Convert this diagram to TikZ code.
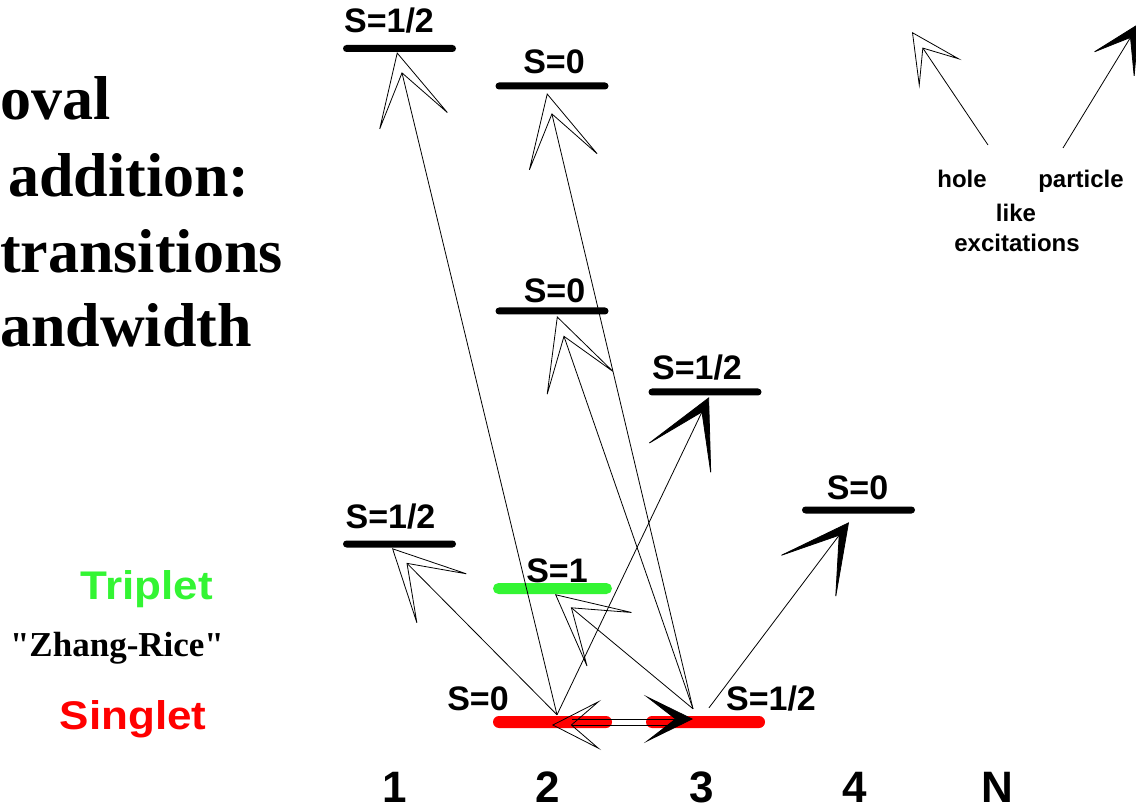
\documentclass[tikz,border=0pt]{standalone}
\usepackage{fontspec}
\usetikzlibrary{arrows.meta}
\newfontfamily\labfont{Liberation Sans}
\newfontfamily\serifb{Liberation Serif}
\definecolor{levred}{RGB}{255,0,0}
\definecolor{levgreen}{RGB}{51,245,51}
\newcommand{\px}[1]{\fontsize{#1}{#1}\selectfont}
\newcommand{\wider}[1]{\scalebox{1.1}[1]{#1}}

\begin{document}
\begin{tikzpicture}[x=1pt,y=-1pt,
  lev/.style={rectangle, rounded corners=3.5pt, fill=black, minimum width=113pt,
              minimum height=7pt, inner sep=0pt},
  redlev/.style={lev, fill=levred, minimum width=119pt, minimum height=12pt, rounded corners=6pt},
  greenlev/.style={redlev, fill=levgreen, minimum height=11pt, rounded corners=5.5pt},
  spin/.style={font=\labfont\bfseries\px{34}, anchor=base, inner sep=0pt},
  colnum/.style={font=\labfont\bfseries\px{44}, anchor=base, inner sep=0pt},
  title/.style={font=\serifb\bfseries\px{62}, anchor=base west, inner sep=0pt},
  side/.style={font=\labfont\bfseries\px{40}, anchor=base, inner sep=0pt},
  legend/.style={font=\labfont\bfseries\px{24}, anchor=base, inner sep=0pt},
  hole/.style={line width=0.8pt, -{Stealth[open, length=75pt, width=75pt, inset=53pt]}},
  particle/.style={line width=0.8pt, -{Stealth[length=73pt, width=75pt, inset=56pt]}},
  holemid/.style={line width=0.8pt, -{Stealth[open, length=49pt, width=50pt, inset=29pt]}},
  particlemid/.style={line width=0.8pt, -{Stealth[length=49pt, width=48pt, inset=31pt]}},
  holesmall/.style={line width=0.8pt, -{Stealth[open, length=51pt, width=51pt, inset=31pt]}},
  particlesmall/.style={line width=0.8pt, -{Stealth[length=51pt, width=51pt, inset=34pt]}}
]
\useasboundingbox (0,0) rectangle (1136,810);

% title lines
\node[title] (tt1) at (0,120) {oval};
\node[title] (tt2) at (8,197) {addition:};
\node[title] (tt3) at (0,273) {transitions};
\node[title] (tt4) at (0,347) {andwidth};

% two-hole states on the left
\node[side, text=levgreen] (trip) at (147,599) {\wider{Triplet}};
\node[font=\serifb\bfseries\px{35}, anchor=base, inner sep=0pt] (zr) at (117,656) {"Zhang-Rice"};
\node[side, text=levred] (sing) at (133,729) {\wider{Singlet}};

% energy levels
\node[lev] (a1) at (399.5,48.5) {};
\node[lev] (a2) at (552,86) {};
\node[lev] (b2) at (552,311) {};
\node[lev] (b3) at (705,392) {};
\node[lev] (c4) at (858.5,510) {};
\node[lev] (c1) at (399.5,544) {};
\node[greenlev] (t2) at (552.5,588.5) {};
\node[redlev] (g2) at (552.5,722) {};
\node[redlev] (g3) at (705.5,722) {};

% spin labels
\node[spin] (la1) at (389,33) {S=1/2};
\node[spin] (la2) at (554,74) {S=0};
\node[spin] (lb2) at (554.5,303) {S=0};
\node[spin] (lb3) at (697,380) {S=1/2};
\node[spin] (lc4) at (857.5,499) {S=0};
\node[spin] (lc1) at (390.5,528) {S=1/2};
\node[spin] (lt2) at (557,582) {S=1};
\node[spin] (lg2) at (478,710) {S=0};
\node[spin] (lg3) at (771,710) {S=1/2};

% particle numbers
\node[colnum] (n1) at (395,802) {1};
\node[colnum] (n2) at (548,802) {2};
\node[colnum] (n3) at (702,802) {3};
\node[colnum] (n4) at (855,802) {4};
\node[colnum] (nN) at (997,802) {N};

% start points on the ground states
\coordinate (s2) at ([shift={(4.5pt,1pt)}]g2.north);
\coordinate (s3h) at ([shift={(-12.5pt,7pt)}]g3.north);
\coordinate (s3p) at ([shift={(3.5pt,8pt)}]g3.north);

% end points under the excited levels
\coordinate (e1) at ([xshift=-2.5pt]a1.south);
\coordinate (e2) at ([shift={(-5pt,-3.5pt)}]a2.south);
\coordinate (e3) at ([shift={(5pt,-1.5pt)}]b2.south);
\coordinate (e4) at ([shift={(4pt,-1.5pt)}]b3.south);
\coordinate (e5) at ([shift={(-9.5pt,-8.5pt)}]c4.south);
\coordinate (e6) at ([shift={(-7.5pt,-0.5pt)}]c1.south);
\coordinate (e7) at ([xshift=2.5pt]t2.south);

% transitions from the N=2 singlet
\draw[hole] (s2) -- (e1);
\draw[hole] (s2) -- (e6);
\draw[particle] (s2) -- (e4);

% transitions from the N=3 ground state
\draw[hole] (s3h) -- (e2);
\draw[hole] (s3h) -- (e3);
\draw[hole] (s3h) -- (e7);
\draw[particle] (s3p) -- (e5);

% transitions between the two ground states
\coordinate (d1) at ([shift={(19.5pt,3pt)}]g2.center);
\coordinate (d2) at ([shift={(-12.5pt,3pt)}]g3.center);
\coordinate (d3) at ([shift={(-29.5pt,-3pt)}]g3.center);
\coordinate (d4) at ([shift={(-0.5pt,-3pt)}]g2.center);
\draw[particlemid] (d1) -- (d2);
\draw[holemid] (d3) -- (d4);

% legend
\node[legend] (lh) at (962,188) {hole};
\node[legend] (lp) at (1081,188) {particle};
\node[legend] (ll) at (1016,222) {like};
\node[legend] (lx) at (1017,252) {excitations};
\coordinate (lh0) at (988,145);
\coordinate (lh1) at (912,32);
\coordinate (lp0) at (1063,148);
\coordinate (lp1) at (1139,23.5);
\draw[holesmall] (lh0) -- (lh1);
\draw[particlesmall] (lp0) -- (lp1);
\end{tikzpicture}
\end{document}
